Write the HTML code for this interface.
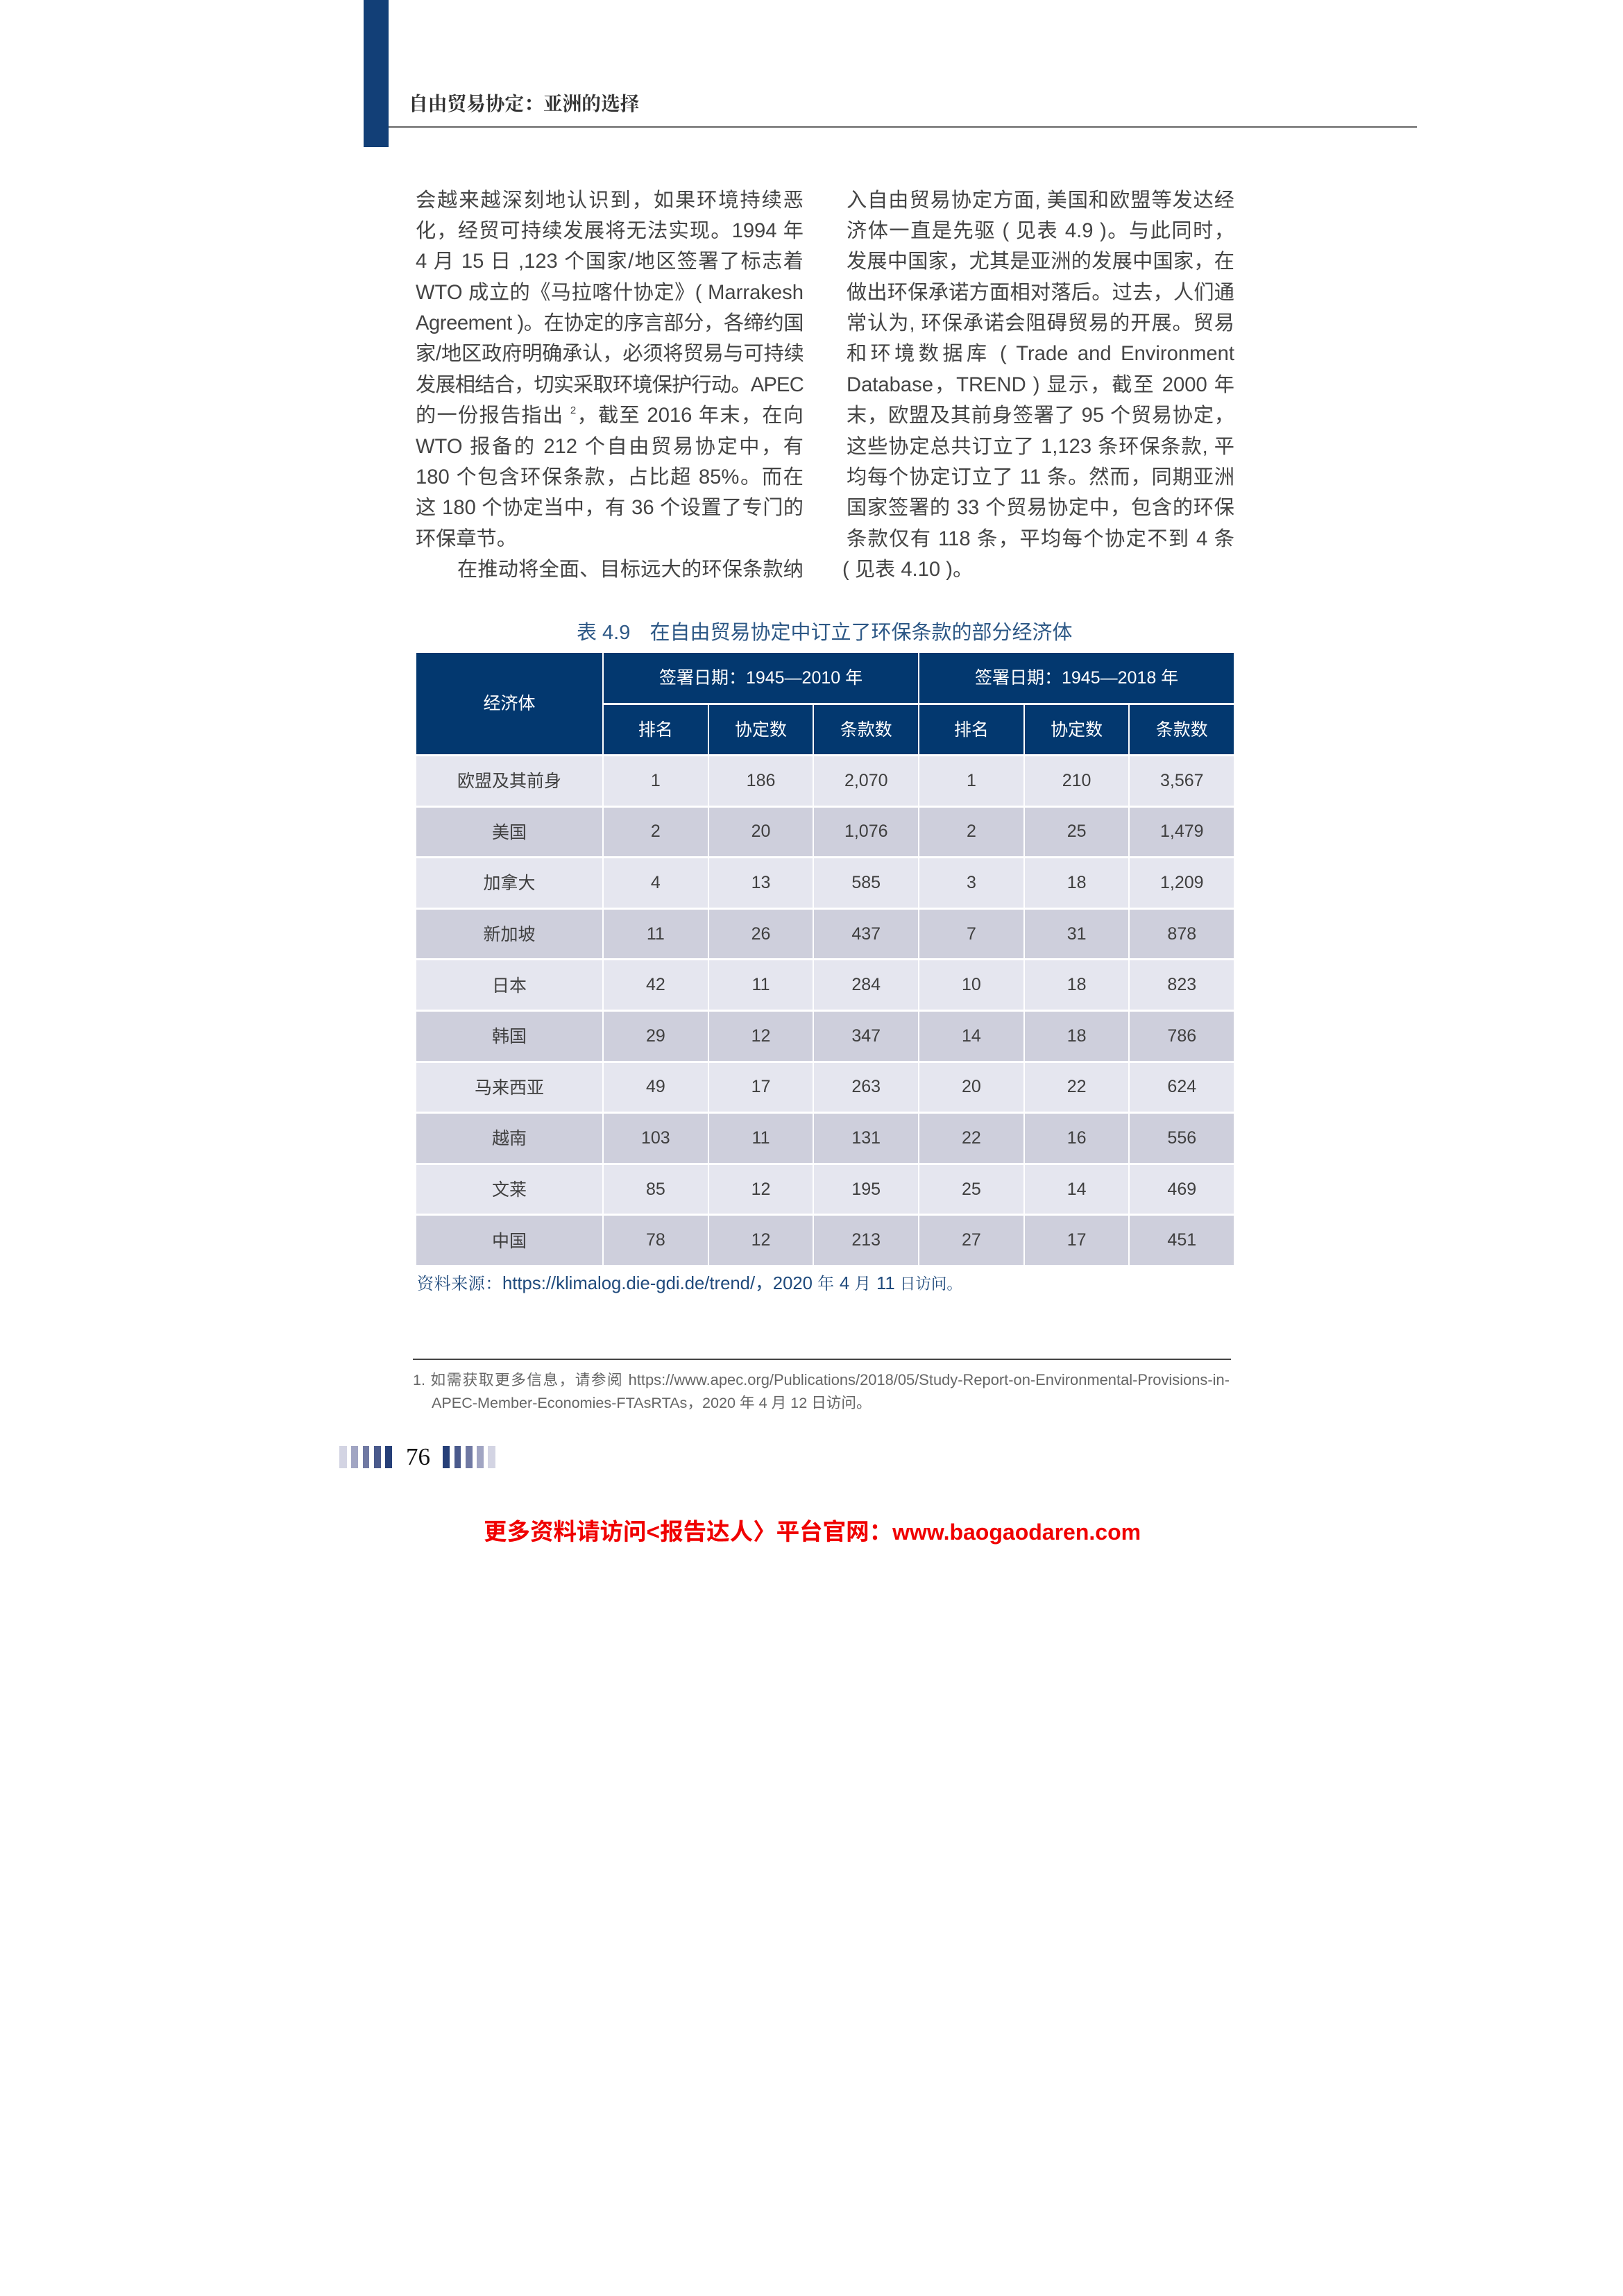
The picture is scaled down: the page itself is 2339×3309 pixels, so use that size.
<!DOCTYPE html>
<html lang="zh-CN">
<head>
<meta charset="utf-8">
<title>自由贸易协定&#xFF1A;亚洲的选择</title>
<style>
html,body{margin:0;padding:0;background:#fff}
#page{position:relative;width:2339px;height:3309px;overflow:hidden;background:#fff;font-family:"Liberation Sans","Noto Sans CJK SC",sans-serif}
.a{position:absolute}
.l{position:absolute;width:559px;height:44px;line-height:44px;font-size:29.2px;color:#444;white-space:nowrap;text-align:justify;text-align-last:justify}
.n{text-align:left;text-align-last:left}
.c1{left:599px}
.c2{left:1220px}
sup{font-size:15px;line-height:0;vertical-align:12px}
.s{font-family:"Noto Serif CJK SC",serif;letter-spacing:.6px}
#tbl{position:absolute;left:600px;top:941px;display:grid;grid-template-columns:268px repeat(6,149.7px);grid-template-rows:72px 71px repeat(10,70.6px);gap:3px 2px}
#tbl div{display:flex;align-items:center;justify-content:center;font-size:25px;color:#3f3f3f;box-sizing:border-box}
#tbl .h{background:#03386f;color:#fff;font-size:25px;padding-bottom:3px}
#tbl .h.t{padding-bottom:5px}
#tbl .o{background:#e5e6ef}
#tbl .e{background:#cecfdc}
#tbl .r{padding-bottom:2px}
.b{position:absolute;top:2084px;height:32px}
</style>
</head>
<body>
<div id="page">
<div class="a" style="left:524px;top:0;width:36px;height:212px;background:#123f77"></div>
<div class="a" style="left:560px;top:182px;width:1482px;height:2px;background:#666"></div>
<div class="a" style="left:589px;top:127px;height:40px;line-height:40px;font-size:27.7px;font-weight:700;color:#333;white-space:nowrap;font-family:'Noto Serif CJK SC',serif">自由贸易协定&#xFF1A;亚洲的选择</div>

<div>
<div class="l c1" style="top:267px">会越来越深刻地认识到&#xFF0C;如果环境持续恶</div>
<div class="l c1" style="top:311px">化&#xFF0C;经贸可持续发展将无法实现。1994 年</div>
<div class="l c1" style="top:355px">4 月 15 日 ,123 个国家/地区签署了标志着</div>
<div class="l c1" style="top:400px">WTO 成立的《马拉喀什协定》( Marrakesh</div>
<div class="l c1" style="top:444px;letter-spacing:-.45px">Agreement )。在协定的序言部分&#xFF0C;各缔约国</div>
<div class="l c1" style="top:488px;letter-spacing:-.15px">家/地区政府明确承认&#xFF0C;必须将贸易与可持续</div>
<div class="l c1" style="top:533px;letter-spacing:-.8px">发展相结合&#xFF0C;切实采取环境保护行动。APEC</div>
<div class="l c1" style="top:577px">的一份报告指出 <sup>2</sup>&#xFF0C;截至 2016 年末&#xFF0C;在向</div>
<div class="l c1" style="top:622px">WTO 报备的 212 个自由贸易协定中&#xFF0C;有</div>
<div class="l c1" style="top:666px">180 个包含环保条款&#xFF0C;占比超 85%。而在</div>
<div class="l c1" style="top:710px">这 180 个协定当中&#xFF0C;有 36 个设置了专门的</div>
<div class="l c1 n" style="top:755px">环保章节。</div>
<div class="l c1" style="top:799px;left:659px;width:499px">在推动将全面、目标远大的环保条款纳</div>
</div>

<div>
<div class="l c2" style="top:267px">入自由贸易协定方面, 美国和欧盟等发达经</div>
<div class="l c2" style="top:311px">济体一直是先驱 ( 见表 4.9 )。与此同时&#xFF0C;</div>
<div class="l c2" style="top:355px">发展中国家&#xFF0C;尤其是亚洲的发展中国家&#xFF0C;在</div>
<div class="l c2" style="top:400px">做出环保承诺方面相对落后。过去&#xFF0C;人们通</div>
<div class="l c2" style="top:444px">常认为, 环保承诺会阻碍贸易的开展。贸易</div>
<div class="l c2" style="top:488px">和环境数据库 ( Trade and Environment</div>
<div class="l c2" style="top:533px">Database&#xFF0C;TREND ) 显示&#xFF0C;截至 2000 年</div>
<div class="l c2" style="top:577px">末&#xFF0C;欧盟及其前身签署了 95 个贸易协定&#xFF0C;</div>
<div class="l c2" style="top:622px">这些协定总共订立了 1,123 条环保条款, 平</div>
<div class="l c2" style="top:666px">均每个协定订立了 11 条。然而&#xFF0C;同期亚洲</div>
<div class="l c2" style="top:710px">国家签署的 33 个贸易协定中&#xFF0C;包含的环保</div>
<div class="l c2" style="top:755px">条款仅有 118 条&#xFF0C;平均每个协定不到 4 条</div>
<div class="l c2 n" style="top:799px;left:1214px">( 见表 4.10 )。</div>
</div>

<div class="a" style="left:831px;top:892px;height:40px;line-height:40px;font-size:29px;color:#2d5886;white-space:nowrap">表 4.9&nbsp;&nbsp;&nbsp;<span style="margin-left:4px">在自由贸易协定中订立了环保条款的部分经济体</span></div>

<div id="tbl">
<div class="h" style="grid-row:1/3;grid-column:1;padding-bottom:4px">经济体</div>
<div class="h t" style="grid-column:2/5">签署日期&#xFF1A;1945—2010 年</div>
<div class="h t" style="grid-column:5/8">签署日期&#xFF1A;1945—2018 年</div>
<div class="h">排名</div><div class="h">协定数</div><div class="h">条款数</div><div class="h">排名</div><div class="h">协定数</div><div class="h">条款数</div>

<div class="o r">欧盟及其前身</div><div class="o">1</div><div class="o">186</div><div class="o">2,070</div><div class="o">1</div><div class="o">210</div><div class="o">3,567</div>
<div class="e r">美国</div><div class="e">2</div><div class="e">20</div><div class="e">1,076</div><div class="e">2</div><div class="e">25</div><div class="e">1,479</div>
<div class="o r">加拿大</div><div class="o">4</div><div class="o">13</div><div class="o">585</div><div class="o">3</div><div class="o">18</div><div class="o">1,209</div>
<div class="e r">新加坡</div><div class="e">11</div><div class="e">26</div><div class="e">437</div><div class="e">7</div><div class="e">31</div><div class="e">878</div>
<div class="o r">日本</div><div class="o">42</div><div class="o">11</div><div class="o">284</div><div class="o">10</div><div class="o">18</div><div class="o">823</div>
<div class="e r">韩国</div><div class="e">29</div><div class="e">12</div><div class="e">347</div><div class="e">14</div><div class="e">18</div><div class="e">786</div>
<div class="o r">马来西亚</div><div class="o">49</div><div class="o">17</div><div class="o">263</div><div class="o">20</div><div class="o">22</div><div class="o">624</div>
<div class="e r">越南</div><div class="e">103</div><div class="e">11</div><div class="e">131</div><div class="e">22</div><div class="e">16</div><div class="e">556</div>
<div class="o r">文莱</div><div class="o">85</div><div class="o">12</div><div class="o">195</div><div class="o">25</div><div class="o">14</div><div class="o">469</div>
<div class="e r">中国</div><div class="e">78</div><div class="e">12</div><div class="e">213</div><div class="e">27</div><div class="e">17</div><div class="e">451</div>
</div>

<div class="a" style="left:601px;top:1830px;height:36px;line-height:36px;font-size:25.7px;color:#1f4a7c;white-space:nowrap"><span class="s" style="font-size:24px">资料来源&#xFF1A;</span>https://klimalog.die-gdi.de/trend/&#xFF0C;2020 <span class="s" style="font-size:24px">年</span> 4 <span class="s" style="font-size:24px">月</span> 11 <span class="s" style="font-size:22.5px;letter-spacing:0">日访问。</span></div>

<div class="a" style="left:595px;top:1958px;width:1179px;height:2px;background:#444"></div>
<div class="a" style="left:595px;width:1177px;top:1973px;height:32px;line-height:32px;font-size:21.6px;color:#666;white-space:nowrap;text-align:justify;text-align-last:justify">1. 如需获取更多信息&#xFF0C;请参阅 <span style="font-size:21.9px">https://www.apec.org/Publications/2018/05/Study-Report-on-Environmental-Provisions-in-</span></div>
<div class="a" style="left:622px;top:2006px;height:32px;line-height:32px;font-size:21.6px;color:#666;white-space:nowrap">APEC-Member-Economies-FTAsRTAs&#xFF0C;2020 年 4 月 12 日访问。</div>

<div>
<div class="b" style="left:489px;width:11px;background:#d3d4e3"></div>
<div class="b" style="left:506px;width:10px;background:#a1a5c3"></div>
<div class="b" style="left:523px;width:9px;background:#7079a3"></div>
<div class="b" style="left:539px;width:10px;background:#4a5a8c"></div>
<div class="b" style="left:555px;width:10px;background:#263f78"></div>
</div>
<div class="a" style="left:585px;top:2080px;height:40px;line-height:40px;font-size:35px;color:#111;font-family:'Liberation Serif',serif">76</div>
<div>
<div class="b" style="left:638px;width:10px;background:#263f78"></div>
<div class="b" style="left:655px;width:9px;background:#4a5a8c"></div>
<div class="b" style="left:671px;width:10px;background:#7079a3"></div>
<div class="b" style="left:687px;width:10px;background:#a1a5c3"></div>
<div class="b" style="left:703px;width:11px;background:#d3d4e3"></div>
</div>

<div class="a" style="left:697px;width:945px;top:2186px;height:44px;line-height:44px;font-size:33.5px;font-weight:700;color:#f00000;white-space:nowrap;text-align:justify;text-align-last:justify">更多资料请访问&lt;报告达人〉平台官网&#xFF1A;<span style="font-size:32px">www.baogaodaren.com</span></div>
</div>
</body>
</html>
